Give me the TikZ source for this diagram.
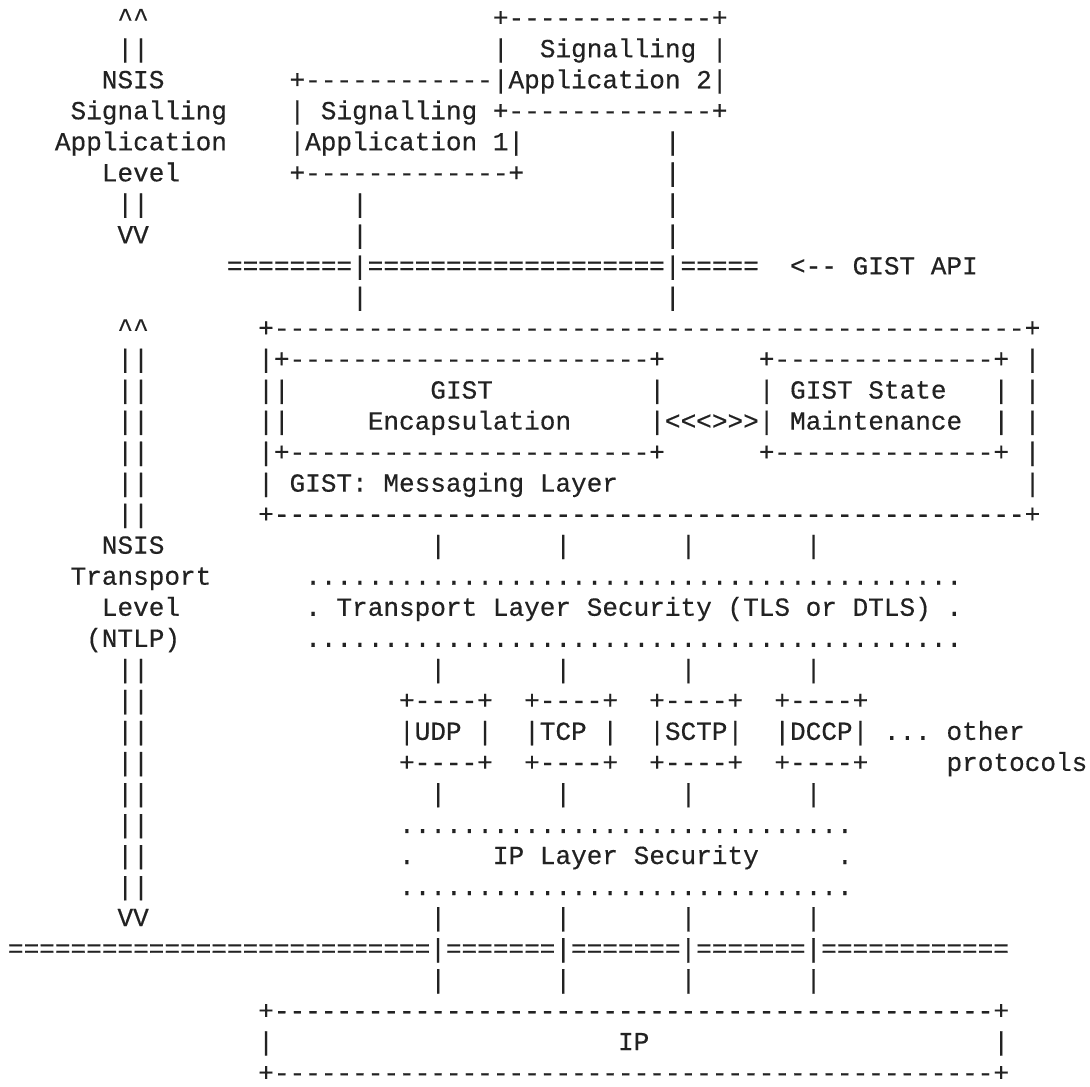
\documentclass[tikz,border=0pt]{standalone}
\usepackage{fontspec}
\setmonofont{Liberation Mono}[FakeBold=0.4]
\definecolor{ink}{HTML}{222222}
% width of one character cell of the monospaced font
\newlength\cw
\settowidth{\cw}{\ttfamily\fontsize{19.55pt}{23pt}\selectfont x}
\ExplSyntaxOn
\newcommand\rpt[2]{\prg_replicate:nn{#1}{#2}}
\ExplSyntaxOff
\newcommand\blanks[1]{\hspace*{#1\cw}}
\begin{document}
\begin{tikzpicture}[x=0.75pt,y=-0.75pt,
  row/.style={anchor=base west,inner sep=0pt,outer sep=0pt,text=ink,
    font=\ttfamily\fontsize{19.55pt}{23pt}\selectfont\frenchspacing}]
\useasboundingbox (0,0) rectangle (1090,1087);
\fill[white] (0,0) rectangle (1090,1087);
% one text line of the layer diagram per row
\newcommand\asciirow[2]{\node[row] (l#1) at (8,{26.2+31.03*(#1-1)}) {#2};}
\asciirow{1}{\blanks{7}\textasciicircum\textasciicircum\blanks{22}+\rpt{13}{-}+}
\asciirow{2}{\blanks{7}||\blanks{22}|\blanks{2}Signalling |}
\asciirow{3}{\blanks{6}NSIS\blanks{8}+\rpt{12}{-}|Application 2|}
\asciirow{4}{\blanks{4}Signalling\blanks{4}| Signalling +\rpt{13}{-}+}
\asciirow{5}{\blanks{3}Application\blanks{4}|Application 1|\blanks{9}|}
\asciirow{6}{\blanks{6}Level\blanks{7}+\rpt{13}{-}+\blanks{9}|}
\asciirow{7}{\blanks{7}||\blanks{13}|\blanks{19}|}
\asciirow{8}{\blanks{7}VV\blanks{13}|\blanks{19}|}
\asciirow{9}{\blanks{14}\rpt{8}{=}|\rpt{19}{=}|\rpt{5}{=}\blanks{2}<-- GIST API}
\asciirow{10}{\blanks{22}|\blanks{19}|}
\asciirow{11}{\blanks{7}\textasciicircum\textasciicircum\blanks{7}+\rpt{48}{-}+}
\asciirow{12}{\blanks{7}||\blanks{7}|+\rpt{23}{-}+\blanks{6}+\rpt{14}{-}+ |}
\asciirow{13}{\blanks{7}||\blanks{7}||\blanks{9}GIST\blanks{10}|\blanks{6}| GIST State\blanks{3}| |}
\asciirow{14}{\blanks{7}||\blanks{7}||\blanks{5}Encapsulation\blanks{5}|<<<>>>| Maintenance\blanks{2}| |}
\asciirow{15}{\blanks{7}||\blanks{7}|+\rpt{23}{-}+\blanks{6}+\rpt{14}{-}+ |}
\asciirow{16}{\blanks{7}||\blanks{7}| GIST: Messaging Layer\blanks{26}|}
\asciirow{17}{\blanks{7}||\blanks{7}+\rpt{48}{-}+}
\asciirow{18}{\blanks{6}NSIS\blanks{17}|\blanks{7}|\blanks{7}|\blanks{7}|}
\asciirow{19}{\blanks{4}Transport\blanks{6}\rpt{42}{.}}
\asciirow{20}{\blanks{6}Level\blanks{8}. Transport Layer Security (TLS or DTLS) .}
\asciirow{21}{\blanks{5}(NTLP)\blanks{8}\rpt{42}{.}}
\asciirow{22}{\blanks{7}||\blanks{18}|\blanks{7}|\blanks{7}|\blanks{7}|}
\asciirow{23}{\blanks{7}||\blanks{16}+----+\blanks{2}+----+\blanks{2}+----+\blanks{2}+----+}
\asciirow{24}{\blanks{7}||\blanks{16}|UDP |\blanks{2}|TCP |\blanks{2}|SCTP|\blanks{2}|DCCP| ... other}
\asciirow{25}{\blanks{7}||\blanks{16}+----+\blanks{2}+----+\blanks{2}+----+\blanks{2}+----+\blanks{5}protocols}
\asciirow{26}{\blanks{7}||\blanks{18}|\blanks{7}|\blanks{7}|\blanks{7}|}
\asciirow{27}{\blanks{7}||\blanks{16}\rpt{29}{.}}
\asciirow{28}{\blanks{7}||\blanks{16}.\blanks{5}IP Layer Security\blanks{5}.}
\asciirow{29}{\blanks{7}||\blanks{16}\rpt{29}{.}}
\asciirow{30}{\blanks{7}VV\blanks{18}|\blanks{7}|\blanks{7}|\blanks{7}|}
\asciirow{31}{\rpt{27}{=}|\rpt{7}{=}|\rpt{7}{=}|\rpt{7}{=}|\rpt{12}{=}}
\asciirow{32}{\blanks{27}|\blanks{7}|\blanks{7}|\blanks{7}|}
\asciirow{33}{\blanks{16}+\rpt{46}{-}+}
\asciirow{34}{\blanks{16}|\blanks{22}IP\blanks{22}|}
\asciirow{35}{\blanks{16}+\rpt{46}{-}+}
\end{tikzpicture}
\end{document}
